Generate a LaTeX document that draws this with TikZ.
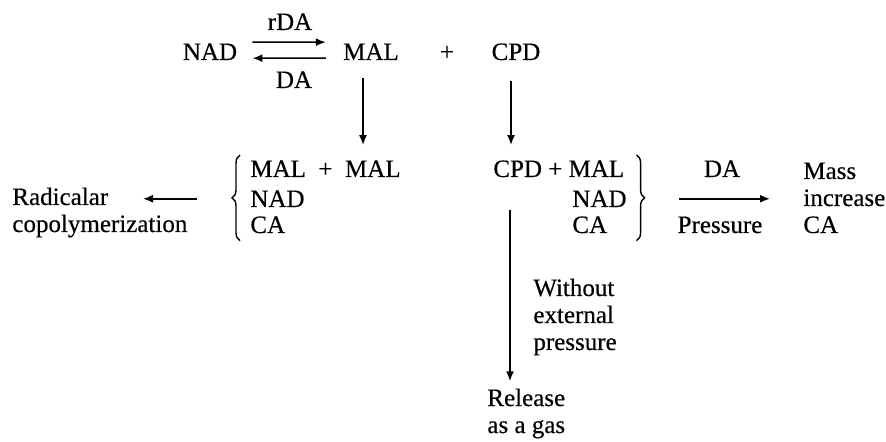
\documentclass[tikz,border=0pt]{standalone}
\usepackage{fontspec}
\setmainfont{Liberation Serif}[FakeBold=0.4]
\usetikzlibrary{arrows.meta, calc, decorations.pathreplacing}

\begin{document}
\begin{tikzpicture}[x=0.5pt, y=-0.5pt,
  every node/.style={font=\fontsize{12.5}{13.5}\selectfont, inner sep=1pt},
  arr/.style={-{Latex[length=5pt,width=4pt]}, line width=0.8pt},
  brc/.style={decorate, decoration={brace, amplitude=4pt}, line width=0.7pt}]
\useasboundingbox (0,0) rectangle (886,442);
% Equilibrium
\node[anchor=base] (NAD) at (210,60) {NAD};
\node[anchor=base] (MAL) at (371,60) {MAL};
\node[anchor=base] (plus) at (447,60) {+};
\node[anchor=base] (CPD) at (516,60) {CPD};
\node[anchor=base] (rDA) at (290,30) {rDA};
\node[anchor=base] (DA) at (294,88) {DA};
\draw[arr, shorten <=6.5pt, shorten >=7.5pt] ([yshift=4.8pt]NAD.east) -- ([yshift=4.8pt]MAL.west);
\draw[arr, shorten <=7.5pt, shorten >=6.5pt] ([yshift=-3.2pt]MAL.west) -- ([yshift=-3.2pt]NAD.east);
% Left mixture
\node[anchor=base west] (L1) at (248,177) {MAL\enspace+\enspace MAL};
\foreach \t/\y/\n in {NAD/207/2, CA/233/3}
  \node[anchor=base west] (L\n) at (248,\y) {\t};
\draw[brc] ([shift={(-4pt,-2.5pt)}]L3.south west) -- ([shift={(-4pt,1.5pt)}]L1.north west);
% Right mixture
\node[anchor=base west] (R1) at (491,177) {CPD + MAL};
\foreach \t/\y/\n in {NAD/207/2, CA/233/3}
  \node[anchor=base west] (R\n) at (570,\y) {\t};
\draw[brc] ([shift={(5pt,1.5pt)}]R1.north east) -- ([shift={(5pt,-30.5pt)}]R1.south east);
% Downward arrows
\draw[arr, shorten <=8pt, shorten >=6.5pt] ([xshift=-4pt]MAL.south) -- ($(MAL.south |- L1.north)+(-4pt,0)$);
\draw[arr, shorten <=9pt, shorten >=6.5pt] ([xshift=-2.5pt]CPD.south) -- ($(CPD.south |- R1.north)+(-2.5pt,0)$);
% Products
\node[anchor=base west, align=left] (rad) at (10,232) {Radicalar\\copolymerization};
\coordinate (radend) at (143,199);
\draw[arr, shorten <=25.5pt] (L2.west) -- (radend |- L2.west);
\node[anchor=base west, align=left] (mass) at (801,233) {Mass\\increase\\CA};
\node[anchor=base] (DA2) at (722,177) {DA};
\node[anchor=base] (press) at (720,233) {Pressure};
\draw[arr, shorten <=25pt, shorten >=15.5pt] (R2.east) -- (R2.east -| mass.west);
\node[anchor=base west, align=left] (wep) at (531,350) {Without\\external\\pressure};
\node[anchor=base west, align=left] (rel) at (485,433) {Release\\as a gas};
\draw[arr, shorten <=15pt, shorten >=2.5pt] ([xshift=9.5pt]R1.south west) -- ($(R1.south west |- rel.north)+(9.5pt,0)$);
\end{tikzpicture}
\end{document}
